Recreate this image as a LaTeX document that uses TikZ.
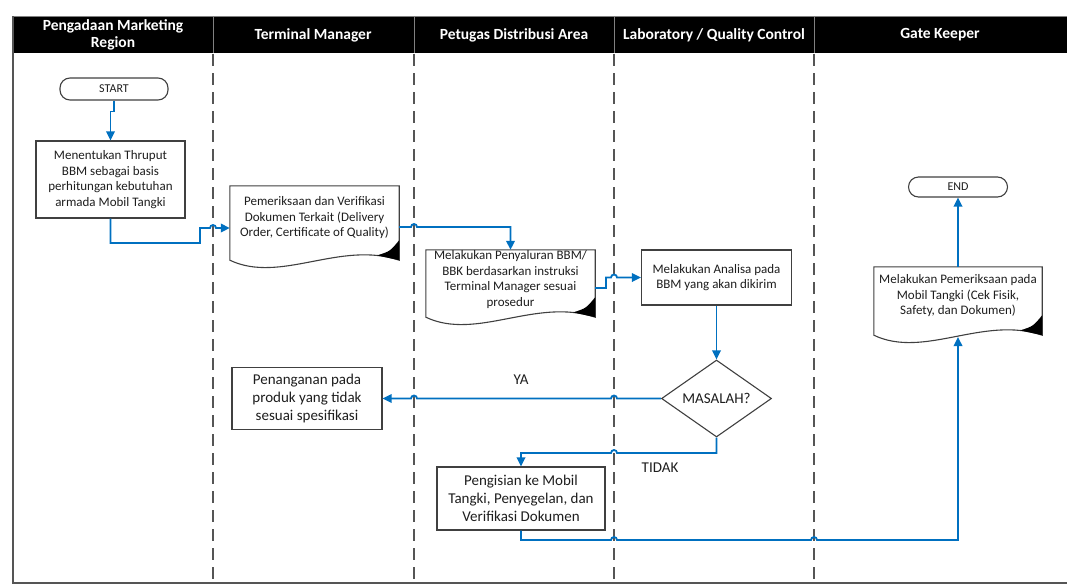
\documentclass[tikz,border=0pt]{standalone}
\usepackage{fontspec}
\setmainfont{Carlito}
\usetikzlibrary{arrows.meta,shapes.geometric,calc}
\definecolor{flowblue}{RGB}{0,112,192}
\definecolor{boxgray}{RGB}{64,64,64}
\definecolor{lanegray}{RGB}{85,85,85}
\definecolor{txt}{RGB}{30,30,30}
\newcommand\docoutline[1]{%
  \draw[boxgray,line width=1.1pt,fill=white] (#1.north west) -- (#1.south west)
    .. controls ($(#1.south west)!0.3!(#1.south east)+(0,24)$) and ($(#1.south west)!0.65!(#1.south east)+(0,-20)$) .. (#1.south east)
    -- (#1.north east) -- cycle;
  \fill[black] (#1.south east) -- ($(#1.south east)+(0,-20)$)
    .. controls ($(#1.south east)+(-9,-9)$) .. ($(#1.south east)+(-22,-4.8)$) -- cycle;}
\begin{document}
\begin{tikzpicture}[x=1pt,y=-1pt,
  boxnode/.style={draw=boxgray,line width=1.1pt,fill=white,align=center,text=txt,inner sep=0pt,font=\fontsize{13}{15.5}\selectfont},
  bigbox/.style={boxnode,font=\fontsize{15}{18}\selectfont},
  docbody/.style={draw=none,inner sep=0pt},
  doctext/.style={align=center,text=txt,inner sep=0pt,font=\fontsize{13}{15.5}\selectfont},
  term/.style={draw=boxgray,line width=1.1pt,fill=white,rounded corners=10pt,text=txt,inner sep=0pt,font=\fontsize{12}{14}\selectfont},
  head/.style={text=white,align=center,inner sep=0pt,font=\fontsize{15.5}{17}\selectfont\bfseries},
  lane/.style={lanegray,line width=1.5pt,dash pattern=on 12pt off 7pt},
  flow/.style={flowblue,line width=1.8pt,-{Triangle[length=9pt,width=8.5pt]}},
  lbl/.style={text=txt,inner sep=0pt,font=\fontsize{15}{18}\selectfont}]
\useasboundingbox (0,0) rectangle (1067,584);
% header
\fill[black] (14,16) rectangle (1067,53);
\draw[gray,line width=0.8pt] (14,16) -- (1067,16);
\foreach \x in {213,414,614,814} \draw[gray,line width=1pt] (\x,16) -- (\x,53);
\node[head] (hA) at (113,35) {Pengadaan Marketing\\Region};
\node[head] (hB) at (313,35) {Terminal Manager};
\node[head] (hC) at (514,35) {Petugas Distribusi Area};
\node[head] (hD) at (714,35) {Laboratory / Quality Control};
\node[head] (hE) at (940,35) {Gate Keeper};
% frame
\draw[lanegray,line width=2pt] (13,16) -- (13,583) -- (1067,583);
% lanes
\foreach \x in {213,414,614,814} \draw[lane] (\x,54) -- (\x,582);
% nodes
\node[term,minimum width=108pt,minimum height=22pt] (start) at (114,89) {START};
\node[boxnode,minimum width=149pt,minimum height=77pt] (box1) at (110.5,179.5)
  {Menentukan Thruput\\BBM sebagai basis\\perhitungan kebutuhan\\armada Mobil Tangki};
\node[docbody,minimum width=169pt,minimum height=74pt] (doc1) at (314.5,223) {};
\docoutline{doc1}
\node[doctext] (doc1t) at ([yshift=5pt]doc1.center) {Pemeriksaan dan Verifikasi\\Dokumen Terkait (Delivery\\Order, Certificate of Quality)};
\node[docbody,minimum width=169pt,minimum height=67pt] (doc2) at (510.5,283.5) {};
\docoutline{doc2}
\node[doctext] (doc2t) at ([yshift=4pt]doc2.center) {Melakukan Penyaluran BBM/\\BBK berdasarkan instruksi\\Terminal Manager sesuai\\prosedur};
\node[boxnode,minimum width=150pt,minimum height=55pt] (analisa) at (716.5,277.5)
  {Melakukan Analisa pada\\BBM yang akan dikirim};
\node[draw=boxgray,line width=1.1pt,fill=white,diamond,aspect=1.43,minimum width=110pt,minimum height=77pt,inner sep=0pt,text=txt,font=\fontsize{15}{18}\selectfont] (masalah) at (716.5,398.5) {MASALAH?};
\node[bigbox,minimum width=150pt,minimum height=62pt] (penanganan) at (307,398.5)
  {Penanganan pada\\produk yang tidak\\sesuai spesifikasi};
\node[bigbox,minimum width=168pt,minimum height=63pt] (pengisian) at (521,498.5)
  {Pengisian ke Mobil\\Tangki, Penyegelan, dan\\Verifikasi Dokumen};
\node[docbody,minimum width=168pt,minimum height=68pt] (doc3) at (958,301) {};
\docoutline{doc3}
\node[doctext] (doc3t) at ([yshift=5pt]doc3.center) {Melakukan Pemeriksaan pada\\Mobil Tangki (Cek Fisik,\\Safety, dan Dokumen)};
\node[term,minimum width=99pt,minimum height=20pt] (end) at (958,187) {END};
\coordinate (doc3in) at (958,337);
% labels
\node[lbl] (ya) at (521,380) {YA};
\node[lbl] (tidak) at (660,468) {TIDAK};
% connectors
\draw[flow] (start.south) -- ++(0,11) -| (box1.north);
\draw[flow] (box1.south) |- (200,243) |- (210,228) arc[start angle=180,end angle=0,radius=3pt] -- (doc1.west |- 0,228);
\draw[flow] (doc1.east |- 0,227) -- (411,227) arc[start angle=180,end angle=0,radius=3pt] -| (doc2.north);
\draw[flow] (doc2.east |- 0,288) -- (606,288) |- (611,277.5) arc[start angle=180,end angle=0,radius=3pt] -- (analisa.west);
\draw[flow] (analisa.south) -- (masalah.north);
\draw[flow] (masalah.west) -- (617,398.5) arc[start angle=0,end angle=180,radius=3pt] -- (417,398.5) arc[start angle=0,end angle=180,radius=3pt] -- (penanganan.east);
\draw[flow] (masalah.south) |- (617,453) arc[start angle=0,end angle=180,radius=3pt] -| (pengisian.north);
\draw[flow] (pengisian.south) |- (611,540) arc[start angle=180,end angle=0,radius=3pt] -- (811,540) arc[start angle=180,end angle=0,radius=3pt] -| (doc3in);
\draw[flow] (doc3.north) -- (end.south);
\end{tikzpicture}
\end{document}
